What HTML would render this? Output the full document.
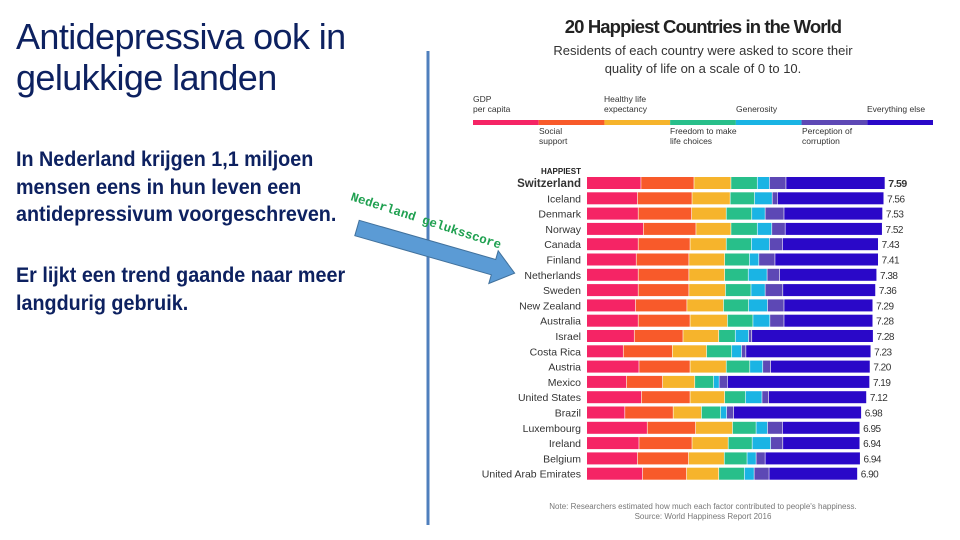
<!DOCTYPE html>
<html><head><meta charset="utf-8"><style>
body{margin:0;width:960px;height:540px;overflow:hidden;background:#fff;font-family:"Liberation Sans",sans-serif;position:relative}
.t{position:absolute;white-space:nowrap}
#title{left:16px;top:16px;font-size:36px;line-height:41px;color:#0d2160;letter-spacing:-0.6px}
.body{left:16px;font-size:21px;font-weight:bold;color:#0d2160;line-height:27.5px;transform:scaleX(0.94);transform-origin:left top}
</style></head><body>
<div class="t" id="title">Antidepressiva ook in<br>gelukkige landen</div>
<div class="t body" style="top:146px">In Nederland krijgen 1,1 miljoen<br>mensen eens in hun leven een<br>antidepressivum voorgeschreven.</div>
<div class="t body" style="top:262px">Er lijkt een trend gaande naar meer<br>langdurig gebruik.</div>
<svg id="c" width="960" height="540" style="position:absolute;left:0;top:0">
<line x1="428" y1="51" x2="428" y2="525" stroke="#4f7fbd" stroke-width="3"/>
<g font-family="Liberation Sans, sans-serif" text-anchor="middle">
<text x="703" y="33" font-size="18.5" font-weight="bold" fill="#222" letter-spacing="-0.9">20 Happiest Countries in the World</text>
<text x="703" y="55" font-size="13" fill="#333">Residents of each country were asked to score their</text>
<text x="703" y="73" font-size="13" fill="#333">quality of life on a scale of 0 to 10.</text>
<text x="703" y="509" font-size="8" fill="#777">Note: Researchers estimated how much each factor contributed to people's happiness.</text>
<text x="703" y="519" font-size="8" fill="#777">Source: World Happiness Report 2016</text>
</g>
<g id="legend"></g>
<g id="bars"></g>
<g transform="translate(357,228) rotate(16)">
<polygon points="0,-8 142,-8 142,-17 164,0 142,17 142,8 0,8" fill="#5b9bd5" stroke="#41719c" stroke-width="1"/>
</g>
<text x="350" y="200" transform="rotate(18 350 200)" font-family="Liberation Mono, monospace" font-weight="bold" font-size="12.5" fill="#1fa050">Nederland geluksscore</text>
</svg>
<script>
const factors=["GDP per capita","Social support","Healthy life expectancy","Freedom to make life choices","Generosity","Perception of corruption","Everything else"];
const colors=["#f52465","#f85a2a","#f6b42c","#28bf8a","#1ab4e4","#5d48b5","#2a08c8"];
const countries=["Switzerland","Iceland","Denmark","Norway","Canada","Finland","Netherlands","Sweden","New Zealand","Australia","Israel","Costa Rica","Austria","Mexico","United States","Brazil","Luxembourg","Ireland","Belgium","United Arab Emirates"];
const scores=["7.59","7.56","7.53","7.52","7.43","7.41","7.38","7.36","7.29","7.28","7.28","7.23","7.20","7.19","7.12","6.98","6.95","6.94","6.94","6.90"];
const gdp=[1.38,1.29,1.31,1.44,1.31,1.26,1.31,1.31,1.24,1.31,1.21,0.93,1.33,1.01,1.39,0.97,1.54,1.33,1.29,1.42];
const social=[1.35,1.39,1.36,1.34,1.32,1.34,1.29,1.29,1.31,1.32,1.24,1.25,1.30,0.92,1.24,1.23,1.23,1.35,1.30,1.12];
const health=[0.94,0.97,0.88,0.89,0.92,0.91,0.91,0.93,0.93,0.95,0.91,0.87,0.92,0.82,0.88,0.72,0.94,0.92,0.91,0.82];
const freedom=[0.67,0.62,0.65,0.67,0.64,0.63,0.60,0.65,0.64,0.65,0.42,0.64,0.60,0.48,0.53,0.49,0.60,0.61,0.58,0.65];
const generosity=[0.31,0.45,0.34,0.37,0.46,0.24,0.48,0.36,0.48,0.43,0.34,0.25,0.33,0.14,0.42,0.15,0.29,0.47,0.23,0.25];
const corruption=[0.42,0.13,0.48,0.34,0.33,0.41,0.32,0.45,0.42,0.36,0.08,0.11,0.20,0.21,0.17,0.18,0.38,0.31,0.23,0.38];
const rest=[2.52,2.71,2.51,2.47,2.44,2.63,2.47,2.36,2.26,2.26,3.09,3.18,2.53,3.62,2.49,3.25,1.97,1.96,2.42,2.25];
const series=[gdp,social,health,freedom,generosity,corruption,rest];
const NS="http://www.w3.org/2000/svg";
const x0=587,pxPer=39.3,y0=183,rowH=15.3,barH=12;
const xs=v=>x0+v*pxPer, ys=i=>y0+i*rowH;
function mk(tag,attrs,parent){const e=document.createElementNS(NS,tag);for(const k in attrs)e.setAttribute(k,attrs[k]);parent.appendChild(e);return e;}
const bars=document.getElementById('bars');
const hp=mk('text',{x:581,y:174,'font-size':8,'font-weight':'bold','text-anchor':'end',fill:'#222','font-family':'Liberation Sans, sans-serif'},bars);hp.textContent='HAPPIEST';


countries.forEach((c,i)=>{
  const g=mk('g',{},bars);
  
  
  const lab=mk('text',{x:581,y:ys(i)+4,'font-size':i===0?11.5:10.5,'font-weight':i===0?'bold':'normal','text-anchor':'end',fill:'#333','font-family':'Liberation Sans, sans-serif'},g);
  lab.textContent=c;
  
  
  let acc=0;
  series.forEach((s,k)=>{
    const r=mk('rect',{x:xs(acc),y:ys(i)-barH/2,width:Math.max(0,xs(acc+s[i])-xs(acc)-0.6),height:barH,fill:colors[k]},g);
    
    
    acc+=s[i];
  });
  const v=mk('text',{x:xs(acc)+3,y:ys(i)+4,'font-size':i===0?10.5:10,'font-weight':i===0?'bold':'normal',fill:'#333','letter-spacing':'-0.5','font-family':'Liberation Sans, sans-serif'},g);
  v.textContent=scores[i];
  
  
});
const leg=document.getElementById('legend');
const lx=473,lw=460/7;
factors.forEach((f,k)=>{
  const r=mk('rect',{x:lx+k*lw,y:120,width:lw,height:5,fill:colors[k]},leg);
  
  
});
const legTexts=[["GDP","per capita",473,102],["Healthy life","expectancy",604,102],["","Generosity",736,102],["","Everything else",867,102],["Social","support",539,134],["Freedom to make","life choices",670,134],["Perception of","corruption",802,134]];
legTexts.forEach(t=>{
  const e=mk('text',{x:t[2],y:t[3],'font-size':8.5,fill:'#333','font-family':'Liberation Sans, sans-serif'},leg);
  
  
  const a=mk('tspan',{x:t[2],dy:0},e);a.textContent=t[0];
  const b=mk('tspan',{x:t[2],dy:10},e);b.textContent=t[1];
});
</script>
</body></html>
